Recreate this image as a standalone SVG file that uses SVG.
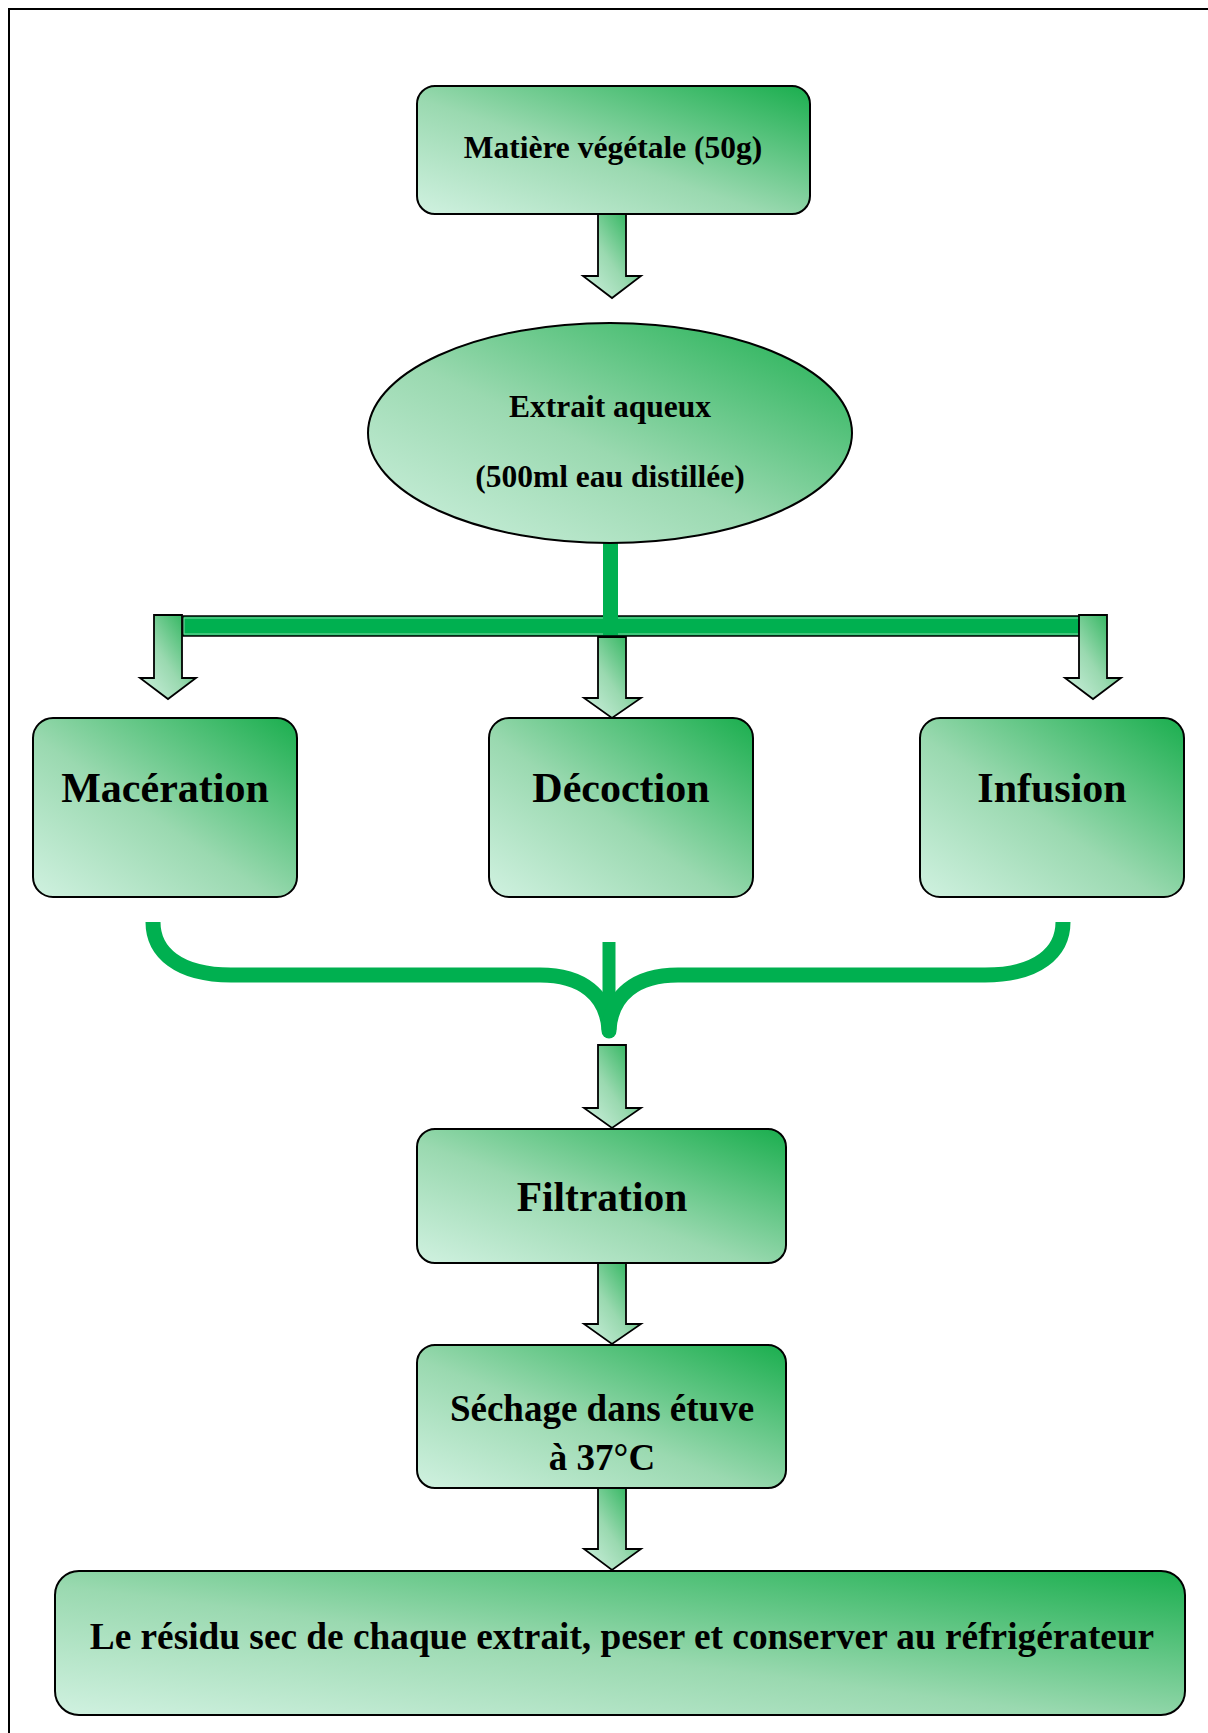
<svg xmlns="http://www.w3.org/2000/svg" width="1208" height="1733" viewBox="0 0 1208 1733">
<defs>
<linearGradient id="g" x1="0" y1="1" x2="1" y2="0">
<stop offset="0" stop-color="#d0f1e0"/>
<stop offset="0.45" stop-color="#9ad9b0"/>
<stop offset="1" stop-color="#1aae4e"/>
</linearGradient>
<style>
.box{fill:url(#g);stroke:#000;stroke-width:2}
.arr{fill:url(#g);stroke:#000;stroke-width:1.8;stroke-linejoin:miter}
.t{font-family:"Liberation Serif","Times New Roman",serif;font-weight:bold;fill:#000;text-anchor:middle}
.gr{fill:none;stroke:#00b050}
</style>
</defs>
<rect width="1208" height="1733" fill="#fff"/>
<path d="M9,1733 V9 H1208" fill="none" stroke="#000" stroke-width="2"/>

<g id="connectors">
<polygon class="arr" points="598,214 626,214 626,276 641,276 612,298 583,276 598,276"/>
<rect x="183" y="616" width="900" height="20" fill="#00b050" stroke="#000" stroke-width="1.5"/>
<rect x="184" y="618" width="898" height="16" fill="none" stroke="#7fdca5" stroke-width="1"/>
<rect x="603" y="543" width="15" height="92" fill="#00b050"/>
<polygon class="arr" points="154,615 182,615 182,678 196,678 168,699 140,678 154,678"/>
<polygon class="arr" points="598,637 626,637 626,698 641,698 612,718 584,698 598,698"/>
<polygon class="arr" points="1079,615 1107,615 1107,678 1121,678 1093,699 1065,678 1079,678"/>
<path class="gr" stroke-width="15" d="M153,922 C153,952 178,975 231,975 L540,975 C582,975 607,995 609,1030"/>
<path class="gr" stroke-width="15" d="M1063,922 C1063,952 1038,975 985,975 L678,975 C636,975 611,995 609,1030"/>
<circle cx="609" cy="1031" r="7.5" fill="#00b050"/>
<path class="gr" stroke-width="13" d="M609,942 V1002"/>
<polygon class="arr" points="598,1045 626,1045 626,1108 641,1108 612,1128 584,1108 598,1108"/>
<polygon class="arr" points="598,1263 626,1263 626,1324 641,1324 612,1344 584,1324 598,1324"/>
<polygon class="arr" points="598,1488 626,1488 626,1549 641,1549 612,1570 584,1549 598,1549"/>
</g>

<g id="n1">
<rect class="box" x="417" y="86" width="393" height="128" rx="18"/>
<text class="t" x="613" y="158" font-size="31.5">Matière végétale (50g)</text>
</g>
<g id="n2">
<ellipse class="box" cx="610" cy="433" rx="242" ry="110"/>
<text class="t" x="610" y="417" font-size="31.5">Extrait aqueux</text>
<text class="t" x="610" y="487" font-size="31.5">(500ml eau distillée)</text>
</g>
<g id="n3">
<rect class="box" x="33" y="718" width="264" height="179" rx="20"/>
<text class="t" x="165" y="802" font-size="42">Macération</text>
</g>
<g id="n4">
<rect class="box" x="489" y="718" width="264" height="179" rx="20"/>
<text class="t" x="621" y="802" font-size="42">Décoction</text>
</g>
<g id="n5">
<rect class="box" x="920" y="718" width="264" height="179" rx="20"/>
<text class="t" x="1052" y="802" font-size="42">Infusion</text>
</g>
<g id="n6">
<rect class="box" x="417" y="1129" width="369" height="134" rx="18"/>
<text class="t" x="602" y="1211" font-size="41.5">Filtration</text>
</g>
<g id="n7">
<rect class="box" x="417" y="1345" width="369" height="143" rx="18"/>
<text class="t" x="602" y="1421" font-size="37">Séchage dans étuve</text>
<text class="t" x="602" y="1470" font-size="37">à 37°C</text>
</g>
<g id="n8">
<rect class="box" x="55" y="1571" width="1130" height="144" rx="24"/>
<text class="t" x="622" y="1649" font-size="37.3">Le résidu sec de chaque extrait, peser et conserver au réfrigérateur</text>
</g>
</svg>
